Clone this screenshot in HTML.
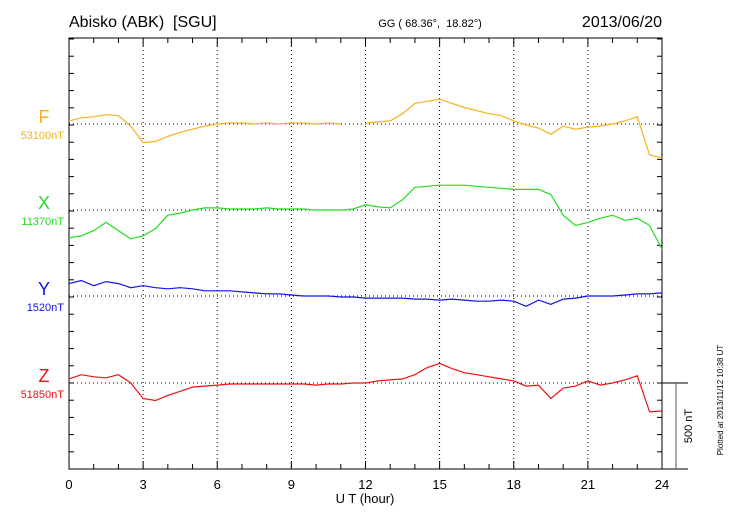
<!DOCTYPE html>
<html><head><meta charset="utf-8"><style>
body{margin:0;background:#fff;width:730px;height:520px;overflow:hidden}
svg{font-family:"Liberation Sans",sans-serif}
text{white-space:pre}
</style></head><body>
<svg id="c" width="730" height="520" xml:space="preserve">
<text x="69" y="27" font-size="16" xml:space="preserve">Abisko (ABK)  [SGU]</text>
<text x="430" y="27" font-size="11" text-anchor="middle" xml:space="preserve">GG ( 68.36°,  18.82°)</text>
<text x="662" y="27" font-size="16" text-anchor="end">2013/06/20</text>
<text x="365" y="503" font-size="13" text-anchor="middle">U T (hour)</text>
<text transform="translate(692,426) rotate(-90)" font-size="11" text-anchor="middle">500 nT</text>
<text transform="translate(723,400) rotate(-90)" font-size="8" text-anchor="middle">Plotted at 2013/11/12 10:38 UT</text>
</svg>
<script>
const hours=[];for(let i=0;i<=48;i++)hours.push(i*0.5);
const fVals=[18,36,42,54,48,-12,-108,-102,-72,-48,-30,-12,0,6,6,0,6,0,6,6,0,6,0,null,6,12,18,60,120,132,144,120,96,78,60,48,18,-6,-24,-60,-12,-30,-18,-12,0,18,42,-180,-198];
const xVals=[-162,-150,-120,-72,-120,-168,-150,-108,-30,-18,0,12,12,6,6,6,12,6,6,6,0,0,0,6,30,18,12,60,132,138,144,144,144,138,132,126,120,120,120,90,-30,-90,-72,-48,-30,-60,-48,-90,-228];
const yVals=[72,90,60,84,72,48,60,48,42,48,42,30,30,30,24,18,12,12,6,0,0,0,-6,-6,-12,-12,-12,-12,-18,-18,-24,-18,-24,-30,-30,-24,-30,-60,-24,-48,-18,-12,0,0,0,6,12,12,18];
const zVals=[24,48,36,30,48,0,-90,-102,-72,-48,-24,-18,-12,-6,-6,-6,-6,-6,-6,-6,-12,-6,-6,0,0,12,18,24,48,90,114,84,60,48,36,24,12,-18,-12,-90,-30,-18,12,-12,0,18,42,-168,-162];
const names=['F','X','Y','Z'];
const baselines=['53100nT','11370nT','1520nT','51850nT'];
const series=[fVals,xVals,yVals,zVals];
const colors=['#f5b21a','#22dd22','#1212ee','#ee1111'];
const xTicks=[0,3,6,9,12,15,18,21,24];
const L=69,R=662,T=38,B=469,base=[124,210,296,383],K=86/500;
const sx=h=>L+(R-L)*h/24;
const svg=document.getElementById('c');const NS='http://www.w3.org/2000/svg';
function mk(t,a){const e=document.createElementNS(NS,t);for(const k in a)e.setAttribute(k,a[k]);svg.appendChild(e);return e;}
xTicks.slice(1,-1).forEach(h=>{const g=mk('line',{x1:sx(h),x2:sx(h),y1:T,y2:B,stroke:'#000','stroke-width':1,'stroke-dasharray':'1,3'});

});
base.forEach(b=>{const g=mk('line',{x1:L,x2:R,y1:b,y2:b,stroke:'#000','stroke-width':1,'stroke-dasharray':'1,3'});

});
const fr=mk('rect',{x:L,y:T,width:R-L,height:B-T,fill:'none',stroke:'#000','stroke-width':1});


for(let h=0;h<=24;h++){const big=h%3==0;
mk('line',{x1:sx(h),x2:sx(h),y1:T,y2:T+(big?8:5),stroke:'#000'});
mk('line',{x1:sx(h),x2:sx(h),y1:B,y2:B-(big?8:5),stroke:'#000'});}
for(let y=B;y>=T;y-=86/5){mk('line',{x1:L,x2:L+5,y1:y,y2:y,stroke:'#000'});mk('line',{x1:R,x2:R-5,y1:y,y2:y,stroke:'#000'});}
xTicks.forEach(h=>{const t=mk('text',{x:sx(h),y:489,'font-size':13,'text-anchor':'middle'});t.textContent=h;

});
series.forEach((vals,i)=>{let d='',pen=false;
vals.forEach((v,j)=>{if(v===null){pen=false;return;}d+=(pen?'L':'M')+sx(hours[j]).toFixed(1)+','+(base[i]-v*K).toFixed(1);pen=true;});
const p=mk('path',{d:d,fill:'none',stroke:colors[i],'stroke-width':1.2});


const t=mk('text',{x:44,y:base[i]-1,'font-size':18,'text-anchor':'middle',fill:colors[i]});t.textContent=names[i];


const b=mk('text',{x:64,y:base[i]+15,'font-size':11,'text-anchor':'end',fill:colors[i]});b.textContent=baselines[i];

});
mk('line',{x1:R,x2:688,y1:383,y2:383,stroke:'#000'});
mk('line',{x1:R,x2:688,y1:B,y2:B,stroke:'#000'});
const sb=mk('line',{x1:676,x2:676,y1:383,y2:B,stroke:'#555'});


</script>
</body></html>
